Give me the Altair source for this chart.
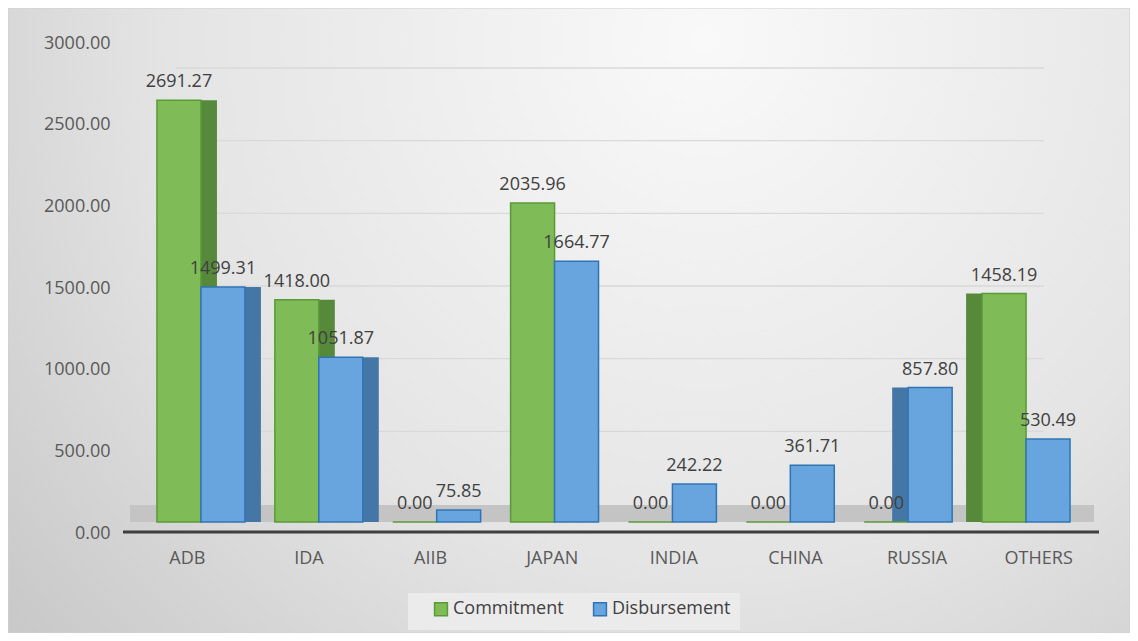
import altair as alt
import pandas as pd

categories = ["ADB", "IDA", "AIIB", "JAPAN", "INDIA", "CHINA", "RUSSIA", "OTHERS"]
commitment = [2691.27, 1418.00, 0.00, 2035.96, 0.00, 0.00, 0.00, 1458.19]
disbursement = [1499.31, 1051.87, 75.85, 1664.77, 242.22, 361.71, 857.80, 530.49]
series = ["Commitment", "Disbursement"]
y_ticks = [0, 500, 1000, 1500, 2000, 2500, 3000]
right_side_cats = ["ADB", "IDA"]
left_side_cats = ["RUSSIA", "OTHERS"]

rows = []
for c, cv, dv in zip(categories, commitment, disbursement):
    rows.append({"cat": c, "series": series[0], "value": cv, "label": f"{cv:.2f}"})
    rows.append({"cat": c, "series": series[1], "value": dv, "label": f"{dv:.2f}"})
df = pd.DataFrame(rows)
tick_df = pd.DataFrame({"v": y_ticks})
cat_df = pd.DataFrame({"cat": categories})

W, H = 973, 470
PAD_L, PAD_T = 118, 44
PAD_R = 1122 - PAD_L - W
PAD_B = 625 - PAD_T - H

FONT = "Open Sans"
FS = 18
BAR_R0, BAR_R1 = 16, 959      # band range of the bars (perspective: a bit narrower)
SHIFT = 30
SIDE_COLORS = {"Commitment": "#568a3a", "Disbursement": "#4477a6"}

one = pd.DataFrame({"a": [0]})

bg = alt.Chart(one).mark_rect(
    fill=alt.RadialGradient(
        gradient="radial",
        x1=0.62, y1=0.25, x2=0.62, y2=0.25, r1=0.0, r2=0.8,
        stops=[alt.GradientStop(color="#f9f9f9", offset=0),
               alt.GradientStop(color="#e4e4e4", offset=0.6),
               alt.GradientStop(color="#c9c9c9", offset=1)],
    ),
    stroke="#d0d0d0",
).encode(
    x=alt.value(-PAD_L), x2=alt.value(W + PAD_R),
    y=alt.value(-PAD_T), y2=alt.value(H + PAD_B),
)

grid = alt.Chart(tick_df[tick_df.v > 0]).mark_rule(color="#d9d9d9", strokeWidth=1.3).encode(
    x=alt.value(50), x2=alt.value(W - 55),
    y=alt.Y("v:Q", scale=alt.Scale(domain=[0, 3000], range=[H - 18, 16]), axis=None),
)

yaxis = alt.Chart(tick_df).mark_point(opacity=0).encode(
    y=alt.Y("v:Q", scale=alt.Scale(domain=[0, 3000], range=[H + 11, -9]),
            axis=alt.Axis(title=None, values=y_ticks, format=".2f", domain=False, ticks=False,
                          grid=False, labelPadding=16, labelFontSize=FS, labelColor="#595959",
                          labelFont=FONT, zindex=1, orient="left")),
    x=alt.value(0),
)

xaxis = alt.Chart(cat_df).mark_point(opacity=0).encode(
    x=alt.X("cat:N", sort=categories,
            scale=alt.Scale(domain=categories, paddingInner=0.27, paddingOuter=0.135),
            axis=alt.Axis(title=None, labelAngle=0, domain=False, ticks=False, grid=False,
                          labelPadding=27, labelFontSize=FS, labelColor="#595959",
                          labelFont=FONT, zindex=1, orient="bottom")),
    y=alt.value(0),
)

floor = alt.Chart(one).mark_rect(fill="#c4c4c4").encode(
    x=alt.value(4), x2=alt.value(W - 5), y=alt.value(H - 17), y2=alt.value(H)
)
baseline = alt.Chart(one).mark_rule(color="#3f3f3f", strokeWidth=3).encode(
    x=alt.value(-3), x2=alt.value(W), y=alt.value(H + 10)
)

legend_box = alt.Chart(one).mark_rect(fill="#ebebeb").encode(
    x=alt.value(282), x2=alt.value(614), y=alt.value(541), y2=alt.value(578)
)


def xbar(r0, r1):
    return alt.X("cat:N", sort=categories,
                 scale=alt.Scale(domain=categories, range=[r0, r1],
                                 paddingInner=0.254, paddingOuter=0.127),
                 axis=None)


yenc = alt.Y("value:Q", scale=alt.Scale(domain=[0, 3000]), axis=None)
xoff = alt.XOffset("series:N", sort=series, scale=alt.Scale(domain=series))

color = alt.Color("series:N", sort=series,
                  scale=alt.Scale(domain=series, range=["#7fbb56", "#68a4de"]),
                  legend=alt.Legend(title=None, orient="none", legendX=306, legendY=548,
                                    direction="horizontal", symbolType="square",
                                    symbolSize=165, symbolStrokeWidth=1.5,
                                    labelFontSize=FS, labelColor="#404040", labelFont=FONT,
                                    columnPadding=26, padding=0, labelOffset=3,
                                    labelLimit=220, zindex=1))
stroke = alt.Stroke("series:N", sort=series,
                    scale=alt.Scale(domain=series, range=["#5a9a38", "#2f75b5"]),
                    legend=None)

side_layers = []
for cats_sel, sgn in ((right_side_cats, 1), (left_side_cats, -1)):
    for s in series:
        sub = df[df.cat.isin(cats_sel) & (df.series == s)]
        side_layers.append(
            alt.Chart(sub).mark_bar(width=16, strokeWidth=0, fill=SIDE_COLORS[s]).encode(
                x=xbar(BAR_R0 + sgn * SHIFT, BAR_R1 + sgn * SHIFT), xOffset=xoff, y=yenc,
            )
        )

bars = alt.Chart(df).mark_bar(strokeWidth=1.5).encode(
    x=xbar(BAR_R0, BAR_R1), xOffset=xoff, y=yenc,
    color=color, stroke=stroke,
)
labels = alt.Chart(df).mark_text(baseline="bottom", dy=-9, fontSize=FS,
                                 color="#404040", font=FONT).encode(
    x=xbar(BAR_R0, BAR_R1), xOffset=xoff,
    y=yenc, text="label:N",
)

chart = alt.layer(
    bg, grid, yaxis, xaxis, floor, baseline, legend_box,
    *side_layers, bars, labels
).resolve_scale(
    x="independent", y="independent"
).properties(
    width=W, height=H,
    autosize=alt.AutoSizeParams(type="none"),
    padding={"left": PAD_L, "top": PAD_T, "right": PAD_R, "bottom": PAD_B},
).configure_view(stroke=None).configure(background="#ffffff")

chart.save("out.html", embed_options={"renderer": "svg", "actions": False})
